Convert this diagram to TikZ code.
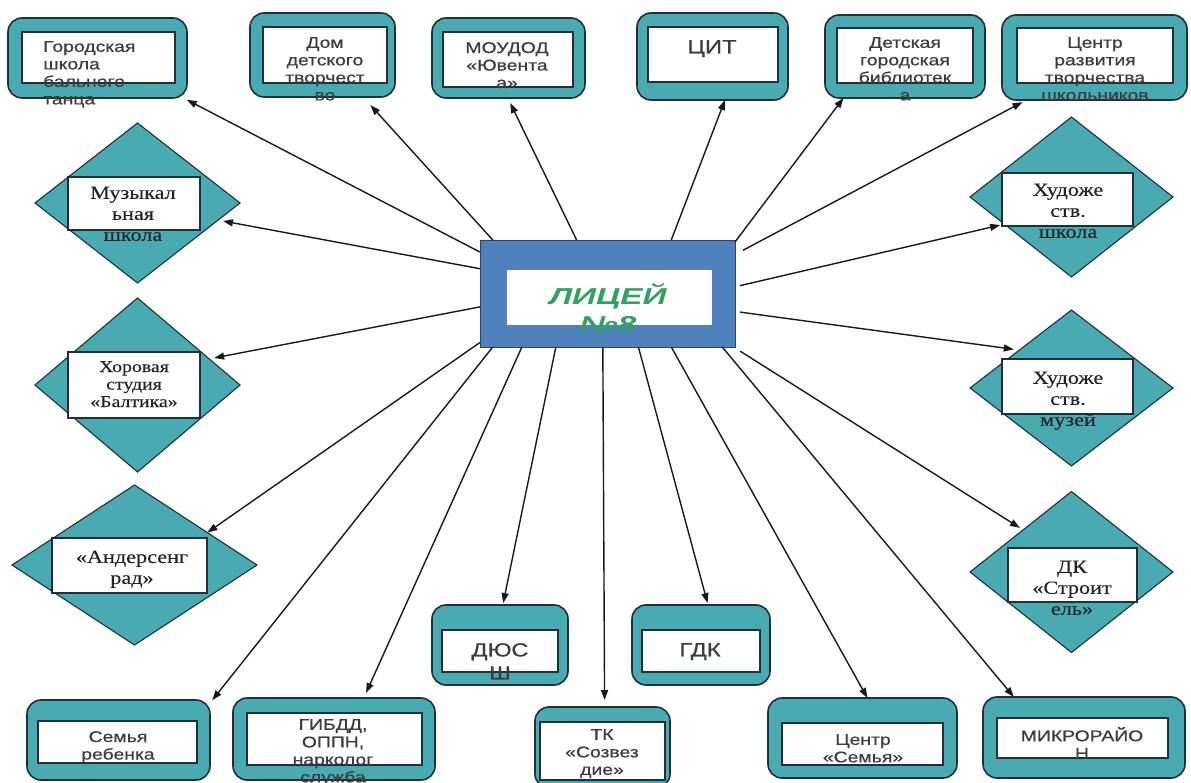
\documentclass[tikz,border=0pt]{standalone}
\usepackage{fontspec}
\usepackage{tikz}
\usetikzlibrary{shapes.geometric,arrows.meta}
\setmainfont{Liberation Sans}
\newfontfamily\boxfont[FakeStretch=1.25,FakeBold=0.6]{Liberation Sans}
\newfontfamily\dmfont[FakeStretch=1.2,FakeBold=0.2]{Liberation Serif}
\newfontfamily\lycfont[FakeStretch=1.45]{Liberation Sans}
\definecolor{tealcol}{RGB}{74,170,178}
\definecolor{edgecol}{RGB}{30,48,60}
\definecolor{lycblue}{RGB}{79,129,189}
\definecolor{lycedge}{RGB}{40,70,110}
\definecolor{lycgreen}{RGB}{50,160,100}
\definecolor{boxgray}{RGB}{60,60,60}
\definecolor{dmgray}{RGB}{35,35,35}
\definecolor{linecol}{RGB}{25,25,25}

\begin{document}
\begin{tikzpicture}[%
    x=1pt, y=-1pt,                           % picture laid out in pixels, top down
    >={Triangle[length=10pt,width=7pt]},     % filled arrow heads
    ]
\tikzset{
  outerbox/.style={draw=edgecol, line width=1.6pt, fill=tealcol, rounded corners=14pt, inner sep=0pt, outer sep=0pt},
  innerbox/.style={draw=edgecol, line width=1.3pt, fill=white, inner sep=0pt, outer sep=0pt},
  rhomb/.style={diamond, draw=edgecol, line width=1.1pt, fill=tealcol, inner sep=0pt, outer sep=0pt},
  boxtext/.style={anchor=north, inner sep=0pt, align=center, text=boxgray, font=\boxfont\fontsize{15.5}{17.5}\selectfont},
  bigtext/.style={boxtext, font=\boxfont\fontsize{19}{23}\selectfont},
  dmtext/.style={anchor=north, inner sep=0pt, align=center, text=dmgray, font=\dmfont\fontsize{18.5}{21}\selectfont},
  link/.style={->, line width=1.4pt, draw=linecol},
}
\useasboundingbox (0,0) rectangle (1191,783);

% centre
\node [draw=lycedge, line width=0.8pt, fill=lycblue, minimum width=255pt, minimum height=107pt, inner sep=0pt, outer sep=0pt] (lyc) at (607.5,293.5) {};
\node [fill=white, minimum width=205pt, minimum height=55pt, inner sep=0pt] (lyc-in) at (609.5,297.5) {};
\node [anchor=north, inner sep=0pt, align=center, text=lycgreen, font=\lycfont\bfseries\itshape\fontsize{23}{28}\selectfont] (lyc-t) at (608,283.5) {ЛИЦЕЙ\\№8};

% top row
\node [outerbox, minimum width=179pt, minimum height=80pt] (gsh) at (97.5,58) {};
\node [innerbox, minimum width=153pt, minimum height=51pt] (gsh-in) at (98.5,57.5) {};
\node [boxtext, anchor=north west, align=left] (gsh-t) at (43,41) {Городская\\школа\\бального\\танца};

\node [outerbox, minimum width=145pt, minimum height=84pt] (ddt) at (322.5,55) {};
\node [innerbox, minimum width=124pt, minimum height=56pt] (ddt-in) at (325,55) {};
\node [boxtext] (ddt-t) at (325,37) {Дом\\детского\\творчест\\во};

\node [outerbox, minimum width=153pt, minimum height=80pt] (mou) at (508.5,58) {};
\node [innerbox, minimum width=130pt, minimum height=55pt] (mou-in) at (508,59.5) {};
\node [boxtext] (mou-t) at (507,42) {МОУДОД\\«Ювента\\а»};

\node [outerbox, minimum width=151pt, minimum height=87pt] (cit) at (712.5,56.5) {};
\node [innerbox, minimum width=130pt, minimum height=55pt] (cit-in) at (713,54.5) {};
\node [bigtext] (cit-t) at (712,40) {ЦИТ};

\node [outerbox, minimum width=160pt, minimum height=83pt] (dgb) at (905,56.5) {};
\node [innerbox, minimum width=136pt, minimum height=55pt] (dgb-in) at (905,55.5) {};
\node [boxtext] (dgb-t) at (905,37) {Детская\\городская\\библиотек\\а};

\node [outerbox, minimum width=185pt, minimum height=85pt] (crt) at (1094.5,57.5) {};
\node [innerbox, minimum width=156pt, minimum height=55pt] (crt-in) at (1095,55.5) {};
\node [boxtext] (crt-t) at (1095,37) {Центр\\развития\\творчества\\школьников};

% left diamonds
\node [rhomb, minimum width=205pt, minimum height=160pt] (muz) at (137.5,203) {};
\node [innerbox, minimum width=132pt, minimum height=53pt] (muz-in) at (134,203.5) {};
\node [dmtext] (muz-t) at (133,186.5) {Музыкал\\ьная\\школа};

\node [rhomb, minimum width=205pt, minimum height=174pt] (hor) at (137.5,385) {};
\node [innerbox, minimum width=132pt, minimum height=66pt] (hor-in) at (134,385) {};
\node [dmtext, font=\dmfont\fontsize{16.5}{17.5}\selectfont] (hor-t) at (134,361) {Хоровая\\студия\\«Балтика»};

\node [rhomb, minimum width=245pt, minimum height=160pt] (agr) at (134.5,565) {};
\node [innerbox, minimum width=155pt, minimum height=55pt] (agr-in) at (129.5,565.5) {};
\node [dmtext] (agr-t) at (132,550.5) {«Андерсенг\\рад»};

% right diamonds
\node [rhomb, minimum width=203pt, minimum height=160pt] (hsh) at (1071.5,197) {};
\node [innerbox, minimum width=131pt, minimum height=53pt] (hsh-in) at (1067.5,199.5) {};
\node [dmtext] (hsh-t) at (1068,183.5) {Художе\\ств.\\школа};

\node [rhomb, minimum width=203pt, minimum height=156pt] (hmz) at (1071.5,388) {};
\node [innerbox, minimum width=131pt, minimum height=55pt] (hmz-in) at (1067.5,386.5) {};
\node [dmtext] (hmz-t) at (1068,371.5) {Художе\\ств.\\музей};

\node [rhomb, minimum width=203pt, minimum height=161pt] (dks) at (1071.5,572) {};
\node [innerbox, minimum width=129pt, minimum height=54pt] (dks-in) at (1072.5,575) {};
\node [dmtext] (dks-t) at (1072,560.5) {ДК\\«Строит\\ель»};

% bottom row
\node [outerbox, minimum width=136pt, minimum height=80pt] (dus) at (500,645) {};
\node [innerbox, minimum width=116pt, minimum height=42pt] (dus-in) at (500,651) {};
\node [bigtext] (dus-t) at (500,643) {ДЮС\\Ш};

\node [outerbox, minimum width=138pt, minimum height=80pt] (gdk) at (701,645) {};
\node [innerbox, minimum width=118pt, minimum height=42pt] (gdk-in) at (701,651) {};
\node [bigtext] (gdk-t) at (700,643) {ГДК};

\node [outerbox, minimum width=183pt, minimum height=80pt] (smr) at (118.5,740) {};
\node [innerbox, minimum width=159pt, minimum height=42pt] (smr-in) at (117.5,742) {};
\node [boxtext] (smr-t) at (118,731) {Семья\\ребенка};

\node [outerbox, minimum width=202pt, minimum height=82pt] (gib) at (334,739) {};
\node [innerbox, minimum width=175pt, minimum height=52pt] (gib-in) at (334.5,739) {};
\node [boxtext] (gib-t) at (333,719) {ГИБДД,\\ОППН,\\нарколог\\служба};

\node [outerbox, minimum width=135pt, minimum height=81pt] (tkz) at (602.5,747.5) {};
\node [innerbox, minimum width=125pt, minimum height=58pt] (tkz-in) at (602.5,751) {};
\node [boxtext] (tkz-t) at (602,729) {ТК\\«Созвез\\дие»};

\node [outerbox, minimum width=189pt, minimum height=80pt] (csm) at (862.5,738) {};
\node [innerbox, minimum width=161pt, minimum height=42pt] (csm-in) at (862.5,744) {};
\node [boxtext] (csm-t) at (863,734) {Центр\\«Семья»};

\node [outerbox, minimum width=202pt, minimum height=81pt] (mkr) at (1084,737.5) {};
\node [innerbox, minimum width=171pt, minimum height=40pt] (mkr-in) at (1082.5,738) {};
\node [boxtext] (mkr-t) at (1082,727) {МИКРОРАЙО\\Н};

%connect
\draw [link, shorten >=4pt] (lyc.162) -- (gsh.-25.6);
\draw [link, shorten >=11pt] (lyc.155.5) -- (ddt.-46);
\draw [link, shorten >=5.6pt] (lyc.120) -- (mou.-91.3);
\draw [link] (lyc.40.6) -- (cit.-74);
\draw [link] (lyc.22.9) -- (dgb.-146.2);
\draw [link, shorten <=9pt, shorten >=4.5pt] (lyc.17.2) -- (crt.-148.9);
\draw [link, shorten <=5pt, shorten >=4.4pt] (lyc.3.4) -- (hsh.-158.1);
\draw [link, shorten <=5pt, shorten >=5.6pt] (lyc.-8.4) -- (hmz.144.8);
\draw [link, shorten <=8pt, shorten >=3.7pt] (lyc.-23) -- (dks.139.1);
\draw [link] (lyc.-25) -- (mkr.150.6);
\draw [link] (lyc.-40.5) -- (csm.83.6);
\draw [link, shorten >=2pt] (lyc.-60.9) -- (gdk.80.6);
\draw [link, shorten >=7pt] (lyc.-95) -- (tkz.87.9);
\draw [link, shorten >=2pt] (lyc.-134.5) -- (dus.86.3);
\draw [link, shorten >=5.5pt] (lyc.-148.1) -- (gib.54.9);
\draw [link, shorten >=3.5pt] (lyc.-155.2) -- (smr.22.2);
\draw [link] (lyc.-159.2) -- (agr.24.1);
\draw [link, shorten >=5pt] (lyc.-174.8) -- (hor.20.9);
\draw [link, shorten >=5pt] (lyc.169.6) -- (muz.-12.8);

\end{tikzpicture}
\end{document}
